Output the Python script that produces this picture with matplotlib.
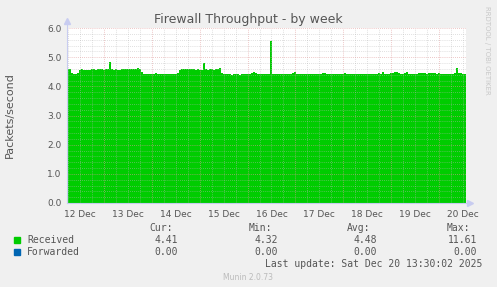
import matplotlib
matplotlib.use("Agg")
import matplotlib.pyplot as plt
import numpy as np

# ---------------- data ----------------
title = "Firewall Throughput - by week"
ylabel = "Packets/second"
day_labels = ["12 Dec", "13 Dec", "14 Dec", "15 Dec", "16 Dec",
              "17 Dec", "18 Dec", "19 Dec", "20 Dec"]
y_ticks = [0.0, 1.0, 2.0, 3.0, 4.0, 5.0, 6.0]

# hourly samples starting 12 Dec 05:30, 200 hours
received = [
    4.60, 4.58,
    4.45, 4.42, 4.42, 4.46,
    4.56, 4.58, 4.57, 4.56, 4.55, 4.57, 4.58, 4.58, 4.57, 4.59, 4.58, 4.58, 4.57, 4.58, 4.59,
    4.83,
    4.58, 4.57, 4.58, 4.57, 4.57, 4.58, 4.58, 4.59, 4.59, 4.58, 4.60, 4.59, 4.60, 4.62, 4.60,
    4.50, 4.44, 4.42, 4.43, 4.44, 4.42, 4.43, 4.45, 4.44, 4.43, 4.42, 4.44, 4.43, 4.42, 4.43,
    4.42, 4.44, 4.43, 4.45,
    4.55, 4.60, 4.61, 4.60, 4.60, 4.61, 4.60, 4.58, 4.57, 4.58, 4.57, 4.56, 4.80, 4.58, 4.57,
    4.60, 4.58, 4.57, 4.59, 4.60, 4.62,
    4.45, 4.42, 4.41, 4.42, 4.41, 4.40, 4.41, 4.42, 4.41, 4.40, 4.41, 4.42, 4.41, 4.42, 4.43,
    4.45, 4.48, 4.46, 4.43, 4.42, 4.44, 4.42, 4.43, 4.42, 4.44,
    5.55,
    4.43, 4.42, 4.44, 4.43, 4.42, 4.44, 4.43, 4.42, 4.43, 4.44,
    4.45, 4.48, 4.44, 4.43, 4.42, 4.43, 4.44, 4.42, 4.43, 4.42,
    4.43, 4.44, 4.42, 4.43, 4.44, 4.45, 4.47, 4.44, 4.43, 4.42,
    4.43, 4.44, 4.42, 4.43, 4.44, 4.43, 4.46, 4.44, 4.42, 4.43,
    4.42, 4.44, 4.43, 4.42, 4.44, 4.43, 4.42, 4.43, 4.44, 4.42,
    4.43, 4.42, 4.44, 4.45, 4.43, 4.50, 4.44, 4.42, 4.43, 4.45,
    4.47, 4.48, 4.48, 4.46, 4.44, 4.43, 4.45, 4.50, 4.44, 4.43,
    4.42, 4.44, 4.43, 4.46, 4.45, 4.46, 4.45, 4.44, 4.46, 4.45,
    4.46, 4.45, 4.44, 4.45, 4.43, 4.42, 4.44, 4.43, 4.42, 4.44,
    4.43, 4.45, 4.62, 4.46, 4.45, 4.44, 4.41,
]

series_names = ["Received", "Forwarded"]
series_colors = ["#00CC00", "#0066B3"]
cur_vals = ["4.41", "0.00"]
min_vals = ["4.32", "0.00"]
avg_vals = ["4.48", "0.00"]
max_vals = ["11.61", "0.00"]
last_update = "Last update: Sat Dec 20 13:30:02 2025"
munin_version = "Munin 2.0.73"
watermark = "RRDTOOL / TOBI OETIKER"

# ---------------- figure ----------------
W, H = 497, 287
fig = plt.figure(figsize=(W / 100, H / 100), dpi=100, facecolor="#F0F0F0")
L, R, T, B = 67, 466, 28, 203
ax = fig.add_axes([L / W, 1 - B / H, (R - L) / W, (B - T) / H])
ax.set_facecolor("white")

n = len(received)
hours = np.arange(n + 1)
vals = np.array(received + [received[-1]])
ax.fill_between(hours, 0, vals, step="post", color="#00CC00", linewidth=0, zorder=2)

ax.set_xlim(0, n)
ax.set_ylim(0, 6.0)

# grid (drawn over the data like rrdtool)
first_midnight = 18.5  # 13 Dec 00:00 relative to start
for k in range(-1, 40):
    x = first_midnight - 24 + 6 * k
    if 0 < x < n:
        if abs((x - first_midnight) % 24) < 1e-6:
            ax.axvline(x, color="#E09A9A", lw=0.6, ls=(0, (1, 1.5)), zorder=3, alpha=0.75)
        else:
            ax.axvline(x, color="#B8B8B8", lw=0.6, ls=(0, (1, 1.5)), zorder=3, alpha=0.6)
for yv in np.arange(0.2, 6.01, 0.2):
    major = abs(yv - round(yv)) < 1e-6
    ax.axhline(yv, color="#E09A9A" if major else "#B8B8B8", lw=0.6,
               ls=(0, (1, 1.5)), zorder=3, alpha=0.75 if major else 0.6)

for s in ax.spines.values():
    s.set_visible(False)

# axis lines with arrows
axc = "#C8CCF0"
ax.plot([0, 0], [0, 6.25], color=axc, lw=0.8, clip_on=False, zorder=4)
ax.plot([0], [6.25], marker="^", color=axc, ms=4, clip_on=False, zorder=4)
ax.plot([0, n + 2], [0, 0], color=axc, lw=0.8, clip_on=False, zorder=4)
ax.plot([n + 2], [0], marker=">", color=axc, ms=4, clip_on=False, zorder=4)

ax.set_yticks(y_ticks)
ax.set_yticklabels([f"{v:.1f}" for v in y_ticks])
noon_pos = [first_midnight - 12 + 24 * k for k in range(len(day_labels))]
ax.set_xticks(noon_pos)
ax.set_xticklabels(day_labels)
ax.tick_params(axis="both", length=0, labelsize=6.5, colors="#555555", pad=4)
ax.tick_params(axis="x", pad=5)

fig.text(248 / W, 1 - 19 / H, title, ha="center", va="center",
         fontsize=9, color="#555555")
fig.text(10 / W, 1 - 115 / H, ylabel, ha="center", va="center",
         rotation=90, fontsize=8, color="#555555")
fig.text(487 / W, 1 - 6 / H, watermark, ha="center", va="top",
         rotation=-90, fontsize=5, color="#C8C8C8")

mono = dict(family="DejaVu Sans Mono", fontsize=7, color="#555555")
# header
for txt, xr in zip(["Cur:", "Min:", "Avg:", "Max:"], [173, 272, 370, 470]):
    fig.text(xr / W, 1 - 228 / H, txt, ha="right", va="center", **mono)
rows_y = [240, 252]
for i, name in enumerate(series_names):
    y = 1 - rows_y[i] / H
    fig.patches.append(plt.Rectangle((14 / W, y - 3 / H), 6 / W, 6 / H,
                                     transform=fig.transFigure,
                                     color=series_colors[i]))
    fig.text(27 / W, y, name, ha="left", va="center", **mono)
    for vals_list, xr in zip([cur_vals, min_vals, avg_vals, max_vals],
                             [178, 278, 377, 477]):
        fig.text(xr / W, y, vals_list[i], ha="right", va="center", **mono)

fig.text(482 / W, 1 - 264 / H, last_update, ha="right", va="center", **mono)
fig.text(248 / W, 1 - 277 / H, munin_version, ha="center", va="center",
         fontsize=5.5, color="#BBBBBB")

fig.savefig("out.png", dpi=100, facecolor=fig.get_facecolor())
